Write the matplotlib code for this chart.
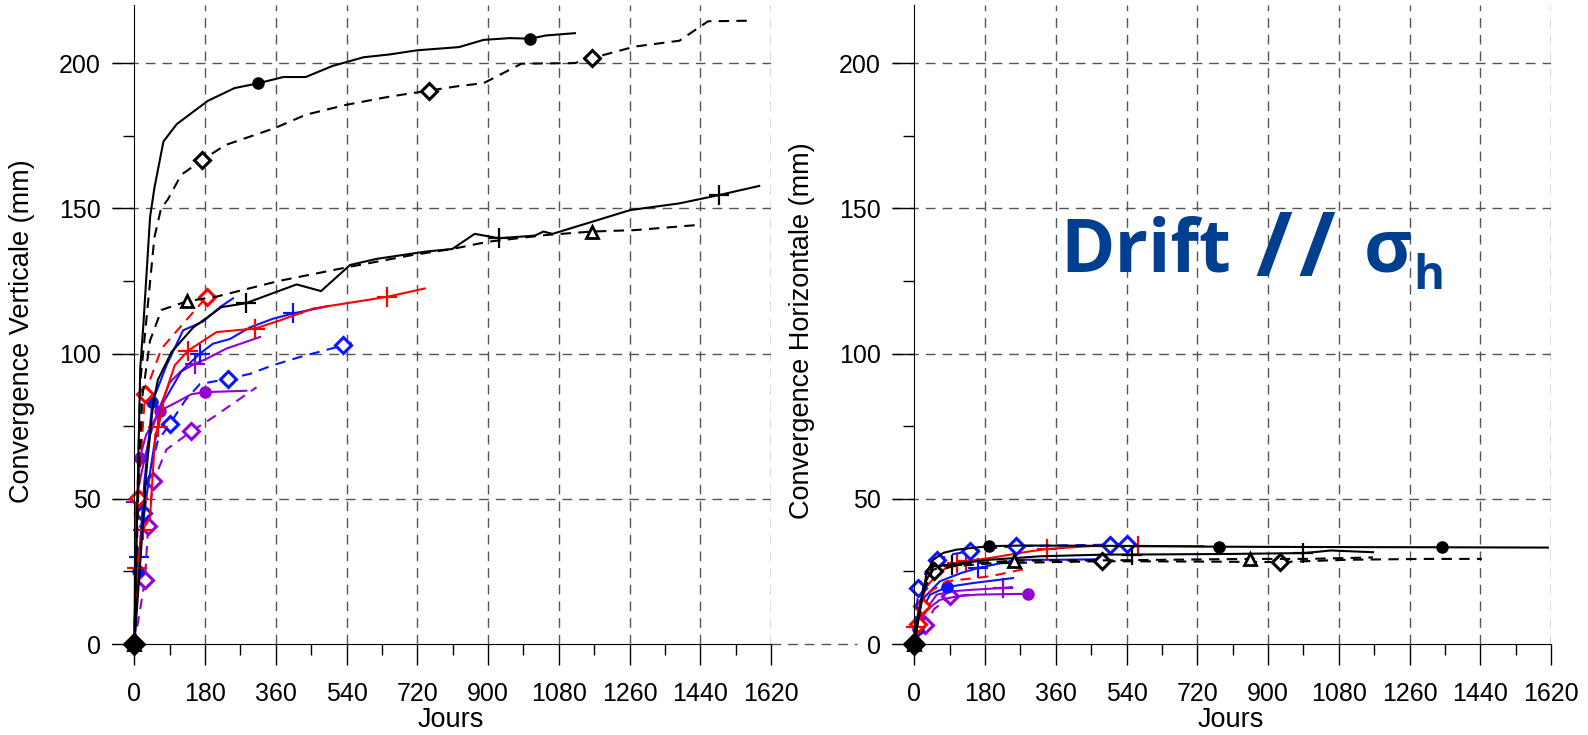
import matplotlib
matplotlib.use("Agg")
import matplotlib.pyplot as plt
from matplotlib.ticker import MultipleLocator

# ---------------- Left panel : vertical convergence (jours, mm) ----------------
lv_blk_circ_d = [0, 8, 15, 23, 40, 51, 74, 108, 187, 255, 314, 379, 436, 504, 583, 651, 719, 826, 889, 956, 1007, 1047, 1121]
lv_blk_circ_v = [0, 50, 95, 110, 147, 157, 173, 179, 187, 191.4, 193, 195.2, 195.2, 199, 202, 203, 204.4, 205.5, 208, 208.6, 208.4, 209.5, 210.3]
lv_blk_circ_m = [0, 314, 1007]

lv_blk_diam_d = [0, 8, 15, 28, 51, 68, 85, 119, 173, 232, 357, 436, 538, 651, 749, 821, 889, 985, 1121, 1164, 1274, 1387, 1460, 1573]
lv_blk_diam_v = [0, 50, 90, 108, 140, 150, 153, 161.5, 166.7, 171.8, 177.6, 182.2, 185.6, 188.5, 190.5, 192, 193.1, 199.8, 200, 201.7, 205.7, 207.7, 214.4, 214.6]
lv_blk_diam_m = [0, 173, 749, 1164]

lv_blk_plus_d = [0, 14, 31, 48, 60, 95, 150, 222, 283, 413, 475, 549, 617, 741, 809, 866, 928, 1019, 1041, 1064, 1262, 1387, 1489, 1590]
lv_blk_plus_v = [0, 26, 60, 83, 91, 100.6, 109, 116, 117.3, 123.8, 121.5, 130.5, 132.6, 135.1, 136, 141.2, 139.7, 140.6, 142, 141.2, 149.4, 151.7, 154.6, 157.7]
lv_blk_plus_m = [0, 283, 928, 1489]

lv_blk_tri_d = [0, 8, 20, 40, 69, 134, 209, 368, 549, 707, 809, 900, 1047, 1164, 1274, 1437]
lv_blk_tri_v = [0, 45, 85, 104.5, 115, 118, 119.6, 125, 129.9, 133.9, 136, 138.5, 140.8, 142, 142.5, 144.3]
lv_blk_tri_m = [0, 134, 1164]

lv_red_diam_d = [0, 10, 27, 40, 69, 116, 184]
lv_red_diam_v = [0, 50.4, 86, 91, 101.7, 109, 119.5]
lv_red_diam_m = [0, 10, 27, 184]

lv_red_plus_d = [0, 6, 22, 40, 53, 61, 78, 103, 137, 209, 307, 370, 455, 642, 739]
lv_red_plus_v = [0, 26, 39.4, 43.6, 72, 74.6, 86, 96, 101, 107.4, 108.6, 111.4, 115.5, 119.5, 122.4]
lv_red_plus_m = [0, 6, 22, 61, 137, 307, 642]

lv_blu_circ_d = [0, 10, 25, 46, 82, 124, 175, 218, 251]
lv_blu_circ_v = [0, 25, 55, 83.4, 96, 108, 111, 116, 119]
lv_blu_circ_m = [0, 10, 46]

lv_blu_plus_d = [0, 12, 30, 50, 73, 120, 167, 200, 243, 294, 353, 404, 464, 495]
lv_blu_plus_v = [0, 30, 50, 68, 83, 94, 100, 103.4, 105, 109, 112, 113.8, 115.5, 116.4]
lv_blu_plus_m = [0, 12, 167, 404]

lv_blu_diam_d = [0, 15, 22, 40, 60, 90, 130, 167, 239, 294, 353, 421, 531, 553]
lv_blu_diam_v = [0, 35, 45, 60, 70, 75.7, 84, 89.5, 91.3, 93, 96, 98.8, 102.8, 103.7]
lv_blu_diam_m = [0, 22, 90, 239, 531]

lv_pur_plus_d = [0, 3, 20, 40, 61, 90, 116, 154, 184, 234, 320]
lv_pur_plus_v = [0, 49, 60, 72, 80.3, 90, 93.6, 96.5, 98.2, 101.7, 105.7]
lv_pur_plus_m = [0, 3, 154]

lv_pur_circ_d = [0, 5, 14, 30, 65, 107, 145, 179, 285]
lv_pur_circ_v = [0, 40, 64.2, 72, 80.3, 83.2, 86, 86.7, 87.2]
lv_pur_circ_m = [0, 14, 65, 179]

lv_pur_diam_d = [0, 27, 35, 48, 82, 145, 200, 311]
lv_pur_diam_v = [0, 22, 40.6, 56, 67, 73.2, 78, 88.4]
lv_pur_diam_m = [0, 27, 35, 48, 145]

# ---------------- Right panel : horizontal convergence (jours, mm) ----------------
rh_blk_circ_d = [0, 10, 19, 31, 48, 74, 108, 191, 277, 500, 774, 1000, 1342, 1612]
rh_blk_circ_v = [0, 8, 15.2, 24.4, 29, 31.4, 32.5, 33.7, 33.9, 33.8, 33.5, 33.4, 33.3, 33.2]
rh_blk_circ_m = [0, 191, 774, 1342]

rh_blk_plus_d = [0, 10, 23, 48, 95, 120, 192, 320, 489, 553, 800, 989, 1030, 1060, 1167]
rh_blk_plus_v = [0, 10, 19.8, 26.7, 27.3, 27.9, 29, 30.2, 30.8, 30.8, 31, 31.3, 31.8, 32.2, 31.6]
rh_blk_plus_m = [0, 95, 553, 989]

rh_blk_tri_d = [0, 10, 25, 48, 91, 254, 500, 854, 1000, 1167]
rh_blk_tri_v = [0, 10, 20, 25.6, 27.3, 28.7, 28.8, 29.3, 29.3, 29.8]
rh_blk_tri_m = [0, 254, 854]

rh_blk_diam_d = [0, 10, 25, 50, 100, 200, 477, 700, 930, 1100, 1300, 1444]
rh_blk_diam_v = [0, 9, 19, 25, 26.8, 27.8, 28.5, 28.4, 28.2, 29, 29.3, 29.3]
rh_blk_diam_m = [0, 50, 477, 930]

rh_blu_diam_d = [0, 5, 10, 30, 57, 100, 142, 200, 259, 400, 498, 542]
rh_blu_diam_v = [0, 10, 19.3, 25, 29, 31, 31.9, 33, 33.7, 34, 34.2, 34.6]
rh_blu_diam_m = [0, 10, 57, 142, 259, 498, 542]

rh_red_plus_d = [0, 5, 10, 31, 65, 108, 131, 192, 294, 337, 447, 569, 735]
rh_red_plus_v = [0, 6, 11.8, 19.8, 25, 27.9, 28.5, 29.6, 31.9, 32.7, 33.7, 33.7, 33.7]
rh_red_plus_m = [0, 5, 108, 131, 337, 569]

rh_red_diam_d = [0, 8, 20, 40, 82, 192, 294]
rh_red_diam_v = [0, 7, 13, 18, 21.6, 23.3, 26.2]
rh_red_diam_m = [0, 8, 20]

rh_blu_plus_d = [0, 10, 25, 65, 120, 163, 260, 362, 490]
rh_blu_plus_v = [0, 8, 16, 21.6, 24.5, 26.2, 29, 29, 29.2]
rh_blu_plus_m = [0, 163]

rh_blu_circ_d = [0, 8, 20, 40, 82, 150, 251]
rh_blu_circ_v = [0, 5, 12, 17, 19.6, 21, 22.7]
rh_blu_circ_m = [0, 8, 82]

rh_pur_plus_d = [0, 8, 25, 57, 100, 150, 226, 248]
rh_pur_plus_v = [0, 5, 11, 17, 18.2, 18.7, 19.3, 19.6]
rh_pur_plus_m = [0, 226]

rh_pur_circ_d = [0, 10, 31, 65, 108, 159, 290]
rh_pur_circ_v = [0, 6, 11.8, 15.2, 16.4, 17, 17.3]
rh_pur_circ_m = [0, 290]

rh_pur_diam_d = [0, 27, 50, 91, 140]
rh_pur_diam_v = [0, 6.6, 12, 16.4, 17]
rh_pur_diam_m = [0, 27, 91]

x_ticks = list(range(0, 1621, 180))
y_ticks = [0, 50, 100, 150, 200]

BLK, RED, BLU, PUR = "black", "#ff0000", "#0a14ff", "#9400d3"
TITLE_BLUE = "#003f8f"

# (days, values, marker days, colour, dashed?, marker)
left_series = [
    (lv_pur_diam_d, lv_pur_diam_v, lv_pur_diam_m, PUR, True, "D"),
    (lv_pur_circ_d, lv_pur_circ_v, lv_pur_circ_m, PUR, False, "o"),
    (lv_pur_plus_d, lv_pur_plus_v, lv_pur_plus_m, PUR, False, "+"),
    (lv_blu_diam_d, lv_blu_diam_v, lv_blu_diam_m, BLU, True, "D"),
    (lv_blu_plus_d, lv_blu_plus_v, lv_blu_plus_m, BLU, False, "+"),
    (lv_blu_circ_d, lv_blu_circ_v, lv_blu_circ_m, BLU, False, "o"),
    (lv_red_plus_d, lv_red_plus_v, lv_red_plus_m, RED, False, "+"),
    (lv_red_diam_d, lv_red_diam_v, lv_red_diam_m, RED, True, "D"),
    (lv_blk_tri_d, lv_blk_tri_v, lv_blk_tri_m, BLK, True, "^"),
    (lv_blk_plus_d, lv_blk_plus_v, lv_blk_plus_m, BLK, False, "+"),
    (lv_blk_diam_d, lv_blk_diam_v, lv_blk_diam_m, BLK, True, "D"),
    (lv_blk_circ_d, lv_blk_circ_v, lv_blk_circ_m, BLK, False, "o"),
]
right_series = [
    (rh_pur_diam_d, rh_pur_diam_v, rh_pur_diam_m, PUR, True, "D"),
    (rh_pur_circ_d, rh_pur_circ_v, rh_pur_circ_m, PUR, False, "o"),
    (rh_pur_plus_d, rh_pur_plus_v, rh_pur_plus_m, PUR, False, "+"),
    (rh_blu_circ_d, rh_blu_circ_v, rh_blu_circ_m, BLU, False, "o"),
    (rh_blu_plus_d, rh_blu_plus_v, rh_blu_plus_m, BLU, False, "+"),
    (rh_red_diam_d, rh_red_diam_v, rh_red_diam_m, RED, True, "D"),
    (rh_red_plus_d, rh_red_plus_v, rh_red_plus_m, RED, False, "+"),
    (rh_blu_diam_d, rh_blu_diam_v, rh_blu_diam_m, BLU, True, "D"),
    (rh_blk_diam_d, rh_blk_diam_v, rh_blk_diam_m, BLK, True, "D"),
    (rh_blk_tri_d, rh_blk_tri_v, rh_blk_tri_m, BLK, True, "^"),
    (rh_blk_plus_d, rh_blk_plus_v, rh_blk_plus_m, BLK, False, "+"),
    (rh_blk_circ_d, rh_blk_circ_v, rh_blk_circ_m, BLK, False, "o"),
]

FONT = ["Liberation Sans", "DejaVu Sans"]
BOLD_FONT = ["Open Sans", "DejaVu Sans"]
GRID = dict(color="#555555", lw=1.0, ls=(0, (7, 5)))


def draw_series(ax, d, v, marks, color, dashed, marker):
    idx = [d.index(m) for m in marks]
    kw = dict(color=color, lw=1.5, clip_on=False, markevery=idx, marker=marker)
    if marker == "o":
        kw.update(ms=8, mfc=color, mec=color)
    elif marker == "D":
        kw.update(ms=8, mfc="white", mec=color, mew=2.2)
    elif marker == "^":
        kw.update(ms=8.5, mfc="white", mec=color, mew=2)
    else:
        kw.update(ms=14, mec=color, mew=1.6)
    ls = (0, (5, 3.5)) if dashed else "-"
    ax.plot(d, v, linestyle=ls, **kw)


def style_axes(ax, ylabel):
    ax.set_xlim(-57, 1620)
    ax.set_ylim(0, 220)
    ax.spines["left"].set_position(("data", 0))
    ax.spines["top"].set_visible(False)
    ax.spines["right"].set_visible(False)
    ax.set_xticks(x_ticks)
    ax.set_yticks(y_ticks)
    ax.xaxis.set_minor_locator(MultipleLocator(90))
    ax.yaxis.set_minor_locator(MultipleLocator(25))
    ax.tick_params(axis="x", which="major", direction="out", length=15, width=1, pad=12)
    ax.tick_params(axis="x", which="minor", direction="out", length=8, width=1)
    ax.tick_params(axis="y", which="major", direction="out", length=16, width=1, pad=8)
    ax.tick_params(axis="y", which="minor", direction="out", length=8, width=1)
    for lab in ax.get_xticklabels() + ax.get_yticklabels():
        lab.set_family(FONT)
        lab.set_fontsize(18)
    for x in x_ticks[1:]:
        ax.axvline(x, zorder=0, **GRID)
    for y in y_ticks[1:]:
        ax.axhline(y, zorder=0, **GRID)
    ax.set_xlabel("Jours", family=FONT, fontsize=19.5)
    ax.set_ylabel(ylabel, family=FONT, fontsize=19.5)
    ax.xaxis.set_label_coords(0.514, -0.098)
    ax.yaxis.set_label_coords(-0.117, 0.49)


fig = plt.figure(figsize=(15.88, 7.35), dpi=100)
ax1 = fig.add_axes([0.0705, 0.1238, 0.415, 0.8694])
ax2 = fig.add_axes([0.5617, 0.1238, 0.415, 0.8694])

for s in left_series:
    draw_series(ax1, *s)
for s in right_series:
    draw_series(ax2, *s)

# overlapping start markers form a big filled diamond at the origin
for ax, d, v in ((ax1, lv_blk_diam_d, lv_blk_diam_v), (ax2, rh_blk_diam_d, rh_blk_diam_v)):
    ax.plot(d[:1], v[:1], marker="D", ms=11, color=BLK, clip_on=False, zorder=5)

style_axes(ax1, "Convergence Verticale (mm)")
style_axes(ax2, "Convergence Horizontale (mm)")

# dashed continuation of the zero line between the two panels
ax1.axhline(0, xmin=1.0, xmax=1.13, clip_on=False, **GRID)

# "Drift // sigma_h" annotation, pieces placed in figure pixels
W, H = 1588.0, 735.0
txt = dict(color=TITLE_BLUE, fontweight="bold", family=BOLD_FONT, ha="left", va="baseline")
fig.text(1060 / W, 1 - 272 / H, "Drift", fontsize=53, **txt)
fig.text(1255 / W, 1 - 276 / H, "/", fontsize=64, **txt)
fig.text(1298 / W, 1 - 276 / H, "/", fontsize=64, **txt)
fig.text(1364 / W, 1 - 272 / H, "σ", fontsize=53, **txt)
fig.text(1413 / W, 1 - 289 / H, "h", fontsize=34, **txt)

fig.savefig("out.png", dpi=100)
